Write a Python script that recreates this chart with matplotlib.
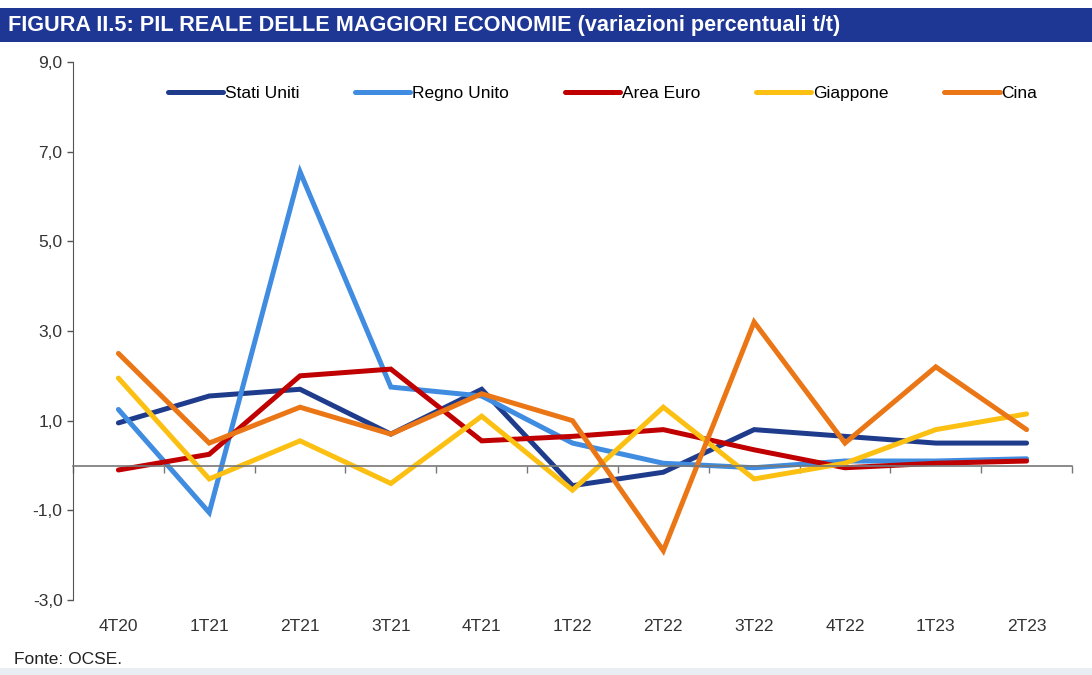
import matplotlib.pyplot as plt
from matplotlib.patches import Rectangle
import matplotlib.transforms as mtransforms

plt.rcParams['font.family'] = ['Liberation Sans Narrow', 'Liberation Sans', 'DejaVu Sans']

quarters = ['4T20', '1T21', '2T21', '3T21', '4T21', '1T22', '2T22', '3T22', '4T22', '1T23', '2T23']
stati_uniti = [0.95, 1.55, 1.7, 0.7, 1.7, -0.45, -0.15, 0.8, 0.65, 0.5, 0.5]
regno_unito = [1.25, -1.05, 6.55, 1.75, 1.55, 0.5, 0.05, -0.05, 0.1, 0.1, 0.15]
area_euro = [-0.1, 0.25, 2.0, 2.15, 0.55, 0.65, 0.8, 0.35, -0.05, 0.05, 0.1]
giappone = [1.95, -0.3, 0.55, -0.4, 1.1, -0.55, 1.3, -0.3, 0.05, 0.8, 1.15]
cina = [2.5, 0.5, 1.3, 0.7, 1.6, 1.0, -1.9, 3.2, 0.5, 2.2, 0.8]

series = [
    ('Stati Uniti', stati_uniti, '#1f3c8c'),
    ('Regno Unito', regno_unito, '#3f8ce0'),
    ('Area Euro', area_euro, '#c00000'),
    ('Giappone', giappone, '#fcc012'),
    ('Cina', cina, '#ea7616'),
]
yticks = [-3, -1, 1, 3, 5, 7, 9]

fig = plt.figure(figsize=(10.92, 6.75), dpi=100)
fig.patch.set_facecolor('white')

# title bar
fig.patches.append(Rectangle((0, 1 - 42 / 675), 1, 34 / 675, transform=fig.transFigure,
                             facecolor='#1e3794', edgecolor='none', zorder=0))
fig.text(8 / 1092, 1 - 25 / 675, 'FIGURA II.5: PIL REALE DELLE MAGGIORI ECONOMIE (variazioni percentuali t/t)',
         color='white', fontsize=15.6, fontweight='bold', va='center', ha='left')
fig.patches.append(Rectangle((0, 0), 1, 7 / 675, transform=fig.transFigure,
                             facecolor='#e9eef5', edgecolor='none', zorder=0))

ax = fig.add_axes([73 / 1092, 1 - 600 / 675, 999 / 1092, 538 / 675])
x = list(range(len(quarters)))
for name, vals, col in series:
    ax.plot(x, vals, color=col, lw=3.6, label=name, solid_capstyle='round', solid_joinstyle='miter')

ax.set_xlim(-0.5, len(quarters) - 0.5)
ax.set_ylim(-3, 9)
ax.set_yticks(yticks)
ax.set_yticklabels([f'{v:.1f}'.replace('.', ',') for v in yticks], fontsize=12.5, color='#333333')
ax.tick_params(axis='y', length=4, color='#555555', width=1)

ax.spines['top'].set_visible(False)
ax.spines['right'].set_visible(False)
ax.spines['left'].set_color('#555555')
ax.spines['bottom'].set_position(('data', 0))
ax.spines['bottom'].set_color('#777777')
ax.spines['bottom'].set_linewidth(1.2)
ax.set_xticks([i - 0.5 for i in range(len(quarters) + 1)])
ax.set_xticklabels([])
ax.tick_params(axis='x', length=5, color='#777777', width=1)

trans = mtransforms.blended_transform_factory(ax.transData, ax.transAxes)
for i, q in enumerate(quarters):
    ax.text(i, -0.05, q, transform=trans, ha='center', va='center', fontsize=12.5, color='#333333')

ax.legend(loc='upper center', bbox_to_anchor=(0.53, 0.985), ncol=5, frameon=False, fontsize=12.5,
          handlelength=3.2, handletextpad=0.1, columnspacing=3.2)

fig.text(14 / 1092, 1 - 660 / 675, 'Fonte: OCSE.', fontsize=12.5, color='#222222', va='center', ha='left')

fig.savefig('out.png', dpi=100)
